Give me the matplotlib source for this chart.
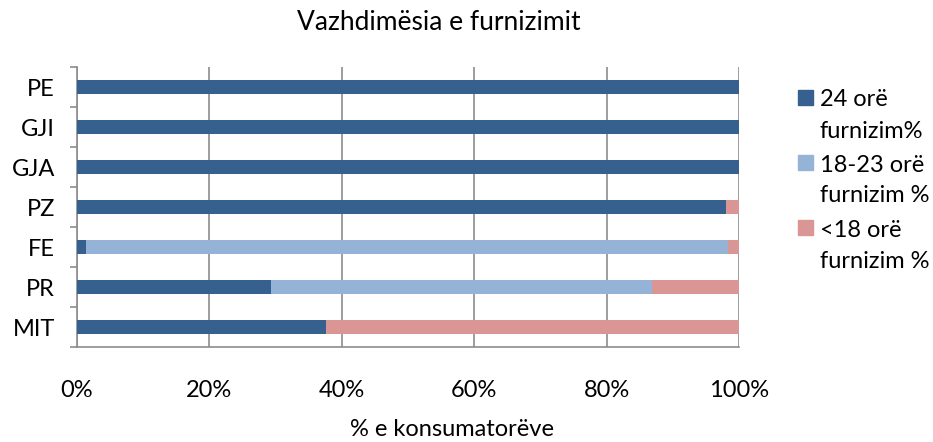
import numpy as np
import matplotlib.pyplot as plt
from matplotlib.patches import Rectangle

#### DATA
categories = ['PE', 'GJI', 'GJA', 'PZ', 'FE', 'PR', 'MIT']
full_24 = [100, 100, 100, 98.0, 1.4, 29.3, 37.6]
part_18_23 = [0, 0, 0, 0, 97.0, 57.5, 0]
under_18 = [0, 0, 0, 2.0, 1.6, 13.2, 62.4]
series_labels = ['24 orë\nfurnizim%', '18-23 orë\nfurnizim %', '<18 orë\nfurnizim %']
colors = ['#36618F', '#95B3D7', '#D99694']
xticks = [0, 20, 40, 60, 80, 100]

plt.rcParams['font.family'] = ['Lato', 'DejaVu Sans']
W, H = 933, 442

fig = plt.figure(figsize=(W/100, H/100), dpi=100)
ax = fig.add_axes([77/W, 1 - 347/H, (739-77)/W, (347-67)/H])

y = np.arange(len(categories))
left = np.zeros(len(categories))
for vals, col in zip([full_24, part_18_23, under_18], colors):
    vals = np.array(vals)
    ax.barh(y, vals, left=left, height=0.35, color=col, zorder=3)
    left += vals

ax.set_xlim(0, 100)
ax.set_ylim(len(categories) - 0.5, -0.5)
ax.set_xticks(xticks)
ax.set_xticklabels([f'{v}%' for v in xticks], fontsize=17)
ax.tick_params(axis='x', length=0, pad=23.5)
ax.grid(axis='x', color='#8c8c8c', linewidth=1.2, zorder=0)

ax.set_yticks(np.arange(-0.5, len(categories)), labels=[])
ax.set_yticks(y, labels=categories, minor=True)
ax.tick_params(axis='y', which='major', length=5, color='#8c8c8c', width=1.2)
ax.tick_params(axis='y', which='minor', length=0, pad=16, labelsize=17)

for s in ['top', 'right']:
    ax.spines[s].set_visible(False)
for s in ['left', 'bottom']:
    ax.spines[s].set_color('#8c8c8c')
    ax.spines[s].set_linewidth(1.2)

fig.text(452/W, 1 - 430/H, '% e konsumatorëve', ha='center', va='center', fontsize=17)
fig.text(439/W, 1 - 22/H, 'Vazhdimësia e furnizimit', ha='center', va='center', fontsize=19)

# legend drawn by hand so the square sits on the first line of each label
for i, (lab, col) in enumerate(zip(series_labels, colors)):
    yc = 97 + i * 65
    fig.patches.append(Rectangle((798/W, 1 - (yc + 7.5)/H), 15/W, 15/H,
                                 color=col, transform=fig.transFigure))
    for j, line in enumerate(lab.split('\n')):
        fig.text(820/W, 1 - (yc + 3 + j*31)/H, line, ha='left', va='center', fontsize=17)

fig.savefig('out.png', dpi=100)
